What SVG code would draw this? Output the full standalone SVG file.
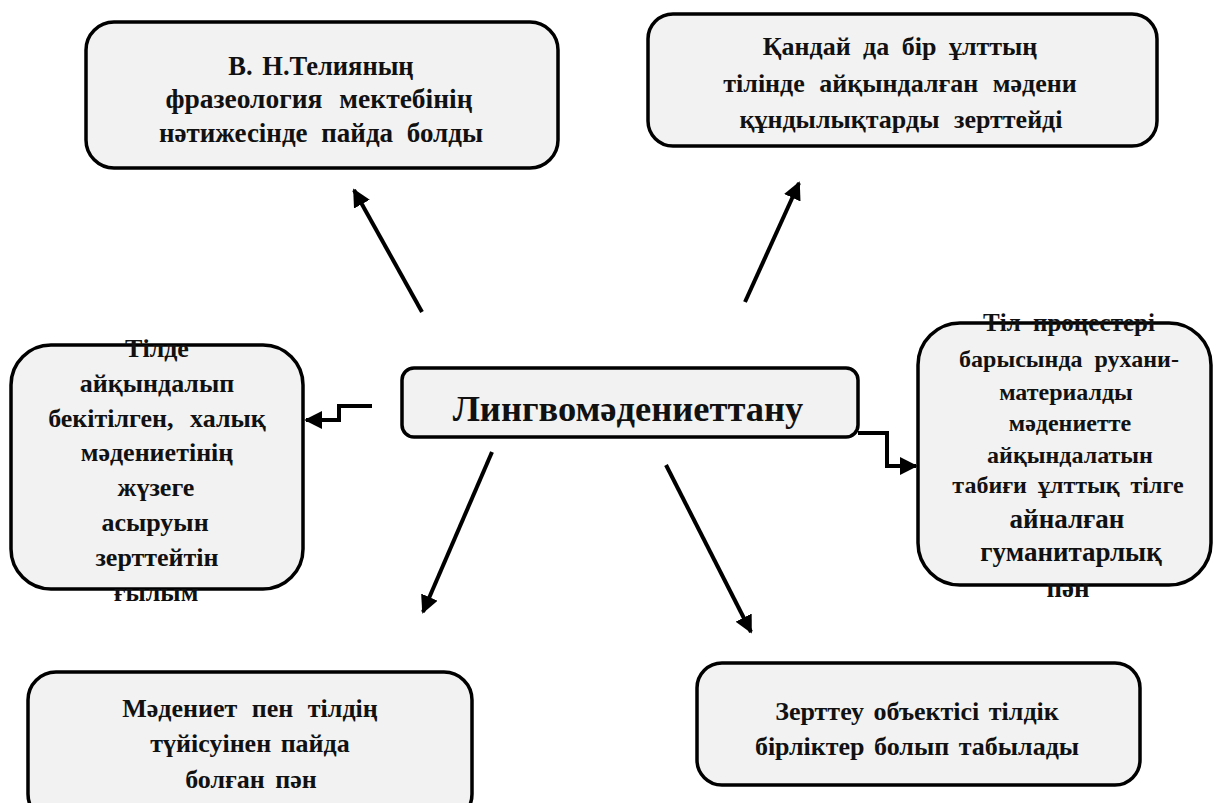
<svg xmlns="http://www.w3.org/2000/svg" width="1214" height="803" viewBox="0 0 1214 803">
<style>
.box{fill:#f2f2f2;stroke:#000;stroke-width:3.5}
.t{font-family:"Liberation Serif","Times New Roman",serif;font-weight:bold;font-size:26px;fill:#111;text-anchor:middle}
.s24{font-size:24px}
.s27{font-size:27px}
.big{font-size:36.5px}
.c{stroke:#000;stroke-width:4;fill:none}
</style>
<defs>
<marker id="ah" viewBox="0 0 10 10" refX="9" refY="5" markerWidth="4.5" markerHeight="4.5" orient="auto" markerUnits="strokeWidth">
<path d="M0,0 L10,5 L0,10 z" fill="#000"/>
</marker>
</defs>
<rect width="1214" height="803" fill="#fff"/>
<g id="node-top-left">
<rect class="box" x="86" y="22" width="472" height="146" rx="28"/>
<text class="t" x="321" y="75" style="font-size:26.5px;word-spacing:3px">В. Н.Телияның</text>
<text class="t" x="319" y="108" style="font-size:27.5px;word-spacing:10px">фразеология мектебінің</text>
<text class="t" x="321" y="142" style="font-size:27px;word-spacing:7px">нәтижесінде пайда болды</text>
</g>
<g id="node-top-right">
<rect class="box" x="648" y="14" width="509" height="132" rx="25"/>
<text class="t" x="900" y="55" style="word-spacing:6px">Қандай да бір ұлттың</text>
<text class="t" x="900" y="92" style="word-spacing:8px">тілінде айқындалған мәдени</text>
<text class="t" x="901" y="128" style="word-spacing:8px">құндылықтарды зерттейді</text>
</g>
<g id="node-center">
<rect class="box" x="402" y="368" width="456" height="69" rx="12"/>
<text class="t big" x="628" y="421">Лингвомәдениеттану</text>
</g>
<g id="node-left">
<rect class="box" x="11" y="345" width="292" height="244" rx="40"/>
<text class="t" x="157" y="357">Тілде</text>
<text class="t" x="157" y="392">айқындалып</text>
<text class="t" x="157" y="427" style="word-spacing:10px">бекітілген, халық</text>
<text class="t" x="157" y="461">мәдениетінің</text>
<text class="t" x="156" y="496">жүзеге</text>
<text class="t" x="155" y="531">асыруын</text>
<text class="t" x="157" y="566">зерттейтін</text>
<text class="t" x="156" y="601">ғылым</text>
</g>
<g id="node-right">
<rect class="box" x="918" y="323" width="293" height="262" rx="42"/>
<text class="t" x="1069" y="331" style="font-size:25px;word-spacing:6px">Тіл процестері</text>
<text class="t s24" x="1069" y="367" style="word-spacing:6px">барысында рухани-</text>
<text class="t s24" x="1066" y="400">материалды</text>
<text class="t s24" x="1070" y="431">мәдениетте</text>
<text class="t s24" x="1070" y="463">айқындалатын</text>
<text class="t s24" x="1068" y="493" style="word-spacing:5px">табиғи ұлттық тілге</text>
<text class="t s27" x="1067" y="528">айналған</text>
<text class="t s27" x="1071" y="561">гуманитарлық</text>
<text class="t s27" x="1068" y="597">пән</text>
</g>
<g id="node-bottom-left">
<rect class="box" x="28" y="672" width="444" height="150" rx="28"/>
<text class="t" x="250" y="717" style="word-spacing:8px">Мәдениет пен тілдің</text>
<text class="t" x="250" y="752" style="word-spacing:3px">түйісуінен пайда</text>
<text class="t" x="251" y="788" style="word-spacing:4px">болған пән</text>
</g>
<g id="node-bottom-right">
<rect class="box" x="697" y="663" width="443" height="122" rx="25"/>
<text class="t" x="917" y="720" style="word-spacing:3px">Зерттеу объектісі тілдік</text>
<text class="t" x="917" y="755" style="word-spacing:3px">бірліктер болып табылады</text>
</g>
<g id="connectors">
<line class="c" x1="422" y1="312" x2="354" y2="190" marker-end="url(#ah)"/>
<line class="c" x1="745" y1="302" x2="799" y2="183" marker-end="url(#ah)"/>
<line class="c" x1="492" y1="452" x2="423" y2="612" marker-end="url(#ah)"/>
<line class="c" x1="666" y1="465" x2="751" y2="632" marker-end="url(#ah)"/>
<polyline class="c" points="372,406 339,406 339,420 306,420" marker-end="url(#ah)"/>
<polyline class="c" points="858,433 887,433 887,466 916,466" marker-end="url(#ah)"/>
</g>
</svg>
